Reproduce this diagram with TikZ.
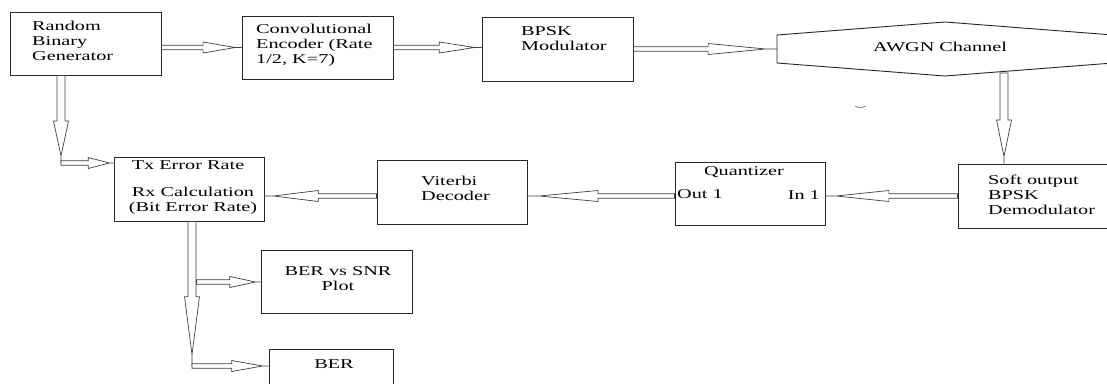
\documentclass[tikz,border=0pt]{standalone}
\usepackage{fontspec}
\usepackage{graphicx}
\setmainfont{Liberation Serif}
\usetikzlibrary{calc}
\newcommand\stx[2][l]{\scalebox{1.5}[1]{\begin{tabular}{@{}#1@{}}#2\end{tabular}}}
\tikzset{
  bah/.store in=\bah, baH/.store in=\baH, bah=2.2pt, baH=5.5pt,
  box/.style={draw=black!85, line width=0.9pt, inner sep=0pt},
  txt/.style={inner sep=0pt, font=\fontsize{13.5}{15}\selectfont, text=black},
  blockarrow/.style={draw=black!75, line width=0.7pt, fill=white, line join=miter,
    to path={
      ($(\tikztostart)!\bah!90:(\tikztotarget)$) --
      ($(\tikztostart)!0.52!(\tikztotarget)!\bah!90:(\tikztotarget)$) --
      ($(\tikztostart)!0.52!(\tikztotarget)!\baH!90:(\tikztotarget)$) --
      ($(\tikztostart)!0.92!(\tikztotarget)$) --
      ($(\tikztostart)!0.52!(\tikztotarget)!\baH!-90:(\tikztotarget)$) --
      ($(\tikztostart)!0.52!(\tikztotarget)!\bah!-90:(\tikztotarget)$) --
      ($(\tikztostart)!\bah!-90:(\tikztotarget)$) -- cycle
      ($(\tikztostart)!0.92!(\tikztotarget)$) -- (\tikztotarget)
    }},
  vert/.style={bah=4pt, baH=7.5pt}
}
\begin{document}
\begin{tikzpicture}[x=1pt,y=-1pt]
\useasboundingbox (0,0) rectangle (1107,383);
\clip (0,0) rectangle (1107,383);
\fill[white] (0,0) rectangle (1107,383);

% boxes
\node[box, minimum width=151, minimum height=63] (rbg) at (85.5,43.5) {};
\node[box, minimum width=151, minimum height=63] (ce) at (317.5,47.5) {};
\node[box, minimum width=151, minimum height=64] (bpsk) at (557.5,49) {};
\draw[box] (777,35) -- (945,22) -- (1113,35) -- (1113,63) -- (945,76) -- (777,63) -- cycle;
\node[box, minimum width=150, minimum height=64] (soft) at (1033,196) {};
\node[box, minimum width=150, minimum height=63] (quant) at (750,193.5) {};
\node[box, minimum width=150, minimum height=64] (vit) at (452,192) {};
\node[box, minimum width=150, minimum height=64] (calc) at (189,189) {};
\node[box, minimum width=151, minimum height=63] (bersnr) at (336.5,281.5) {};
\node[box, minimum width=124, minimum height=64] (ber) at (331,381) {};

% texts
\node[txt, anchor=west] (trbg) at (32,42) {\stx{Random\\Binary\\Generator}};
\node[txt, anchor=west] (tce) at (256,45) {\stx{Convolutional\\Encoder (Rate\\1/2, K=7)}};
\node[txt, anchor=west] (tbpsk) at (521,40) {\stx{BPSK\\Modulator}};
\node[txt] (awgn) at (940,48) {\stx{AWGN Channel}};
\node[txt, anchor=west] (tsoft) at (988,196) {\stx{Soft output\\BPSK\\Demodulator}};
\node[txt] (tquant) at (744,172) {\stx{Quantizer}};
\node[txt, anchor=west] (tout) at (677,195.5) {\stx{Out 1}};
\node[txt, anchor=east] (tin) at (820,196) {\stx{In 1}};
\node[txt, anchor=west] (tvit) at (421,190) {\stx{Viterbi\\Decoder}};
\node[txt] (ttx) at (188,166) {\stx{Tx Error Rate}};
\node[txt] (trx) at (193,200.5) {\stx[c]{Rx Calculation\\(Bit Error Rate)}};
\node[txt] (tbersnr) at (338,280) {\stx[c]{BER vs SNR\\Plot}};
\node[txt] (tber) at (334,365) {\stx{BER}};

% stray mark
\draw[black!60, line width=0.6pt] (855,106) .. controls (860,108.5) .. (866,106);

% connector points
\coordinate (awW) at (777,49);
\coordinate (awS) at (1004,73);
\coordinate (row) at (0,196);
\coordinate (c1) at (61,163);
\coordinate (c2) at (192,366);
\coordinate (c3) at (196.5,282);

% connectors
\draw[blockarrow] (rbg.east |- ce.west) to (ce.west);
\draw[blockarrow] (ce.east) to (bpsk.west |- ce.east);
\draw[blockarrow] (bpsk.east) to (awW);
\draw[blockarrow, vert] (awS) to (awS |- soft.north);
\draw[blockarrow] (soft.west) to (quant.east |- soft.west);
\draw[blockarrow] (quant.west |- row) to (vit.east |- row);
\draw[blockarrow] (vit.west |- row) to (calc.east |- row);
\draw[blockarrow, vert] (c1 |- rbg.south) to (c1);
\draw[blockarrow] (c1) to (c1 -| calc.west);
\draw[blockarrow, vert] (c2 |- calc.south) to (c2);
\draw[blockarrow] (c3) to (c3 -| bersnr.west);
\draw[blockarrow] (c2) to (c2 -| ber.west);
\end{tikzpicture}
\end{document}
